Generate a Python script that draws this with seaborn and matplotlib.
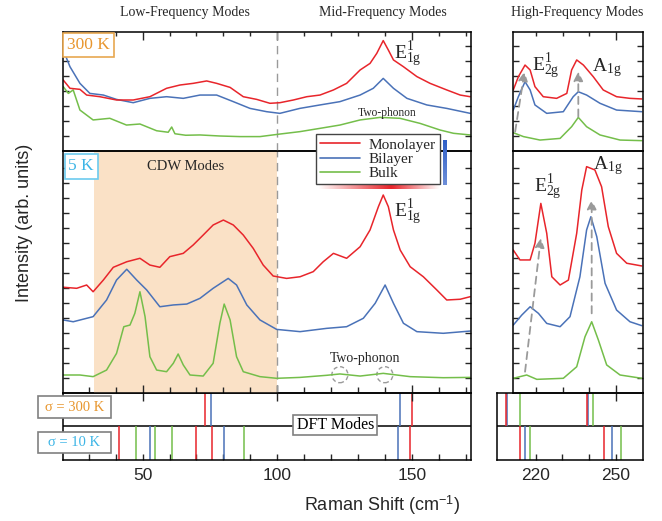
import numpy as np
import pandas as pd
import matplotlib
matplotlib.use("Agg")
import matplotlib.pyplot as plt
import seaborn as sns
from matplotlib.lines import Line2D
from matplotlib.patches import Ellipse, Rectangle

# ---------------- data ----------------
# Low/Mid frequency, 300 K
mono300_x = [20.5, 23, 26.7, 29.2, 34.1, 40.3, 46.5, 52.7, 58.9, 63.9, 68.8, 73.8, 77.5, 82.5, 87.4, 92.4, 97.3, 101,
             106, 111, 115.9, 120.9, 125.8, 130.8, 134.5, 137, 139.4, 141.3, 143.2, 146.9, 151.9, 156.8, 163, 168, 171.7]
mono300_y = [4.73, 4.18, 4.11, 3.73, 3.62, 3.4, 3.4, 3.62, 4.18, 4.4, 4.51, 4.67, 4.51, 4.24, 3.62, 3.44, 3.18, 3.22,
             3.4, 3.62, 3.73, 4.07, 4.51, 5.4, 5.84, 6.51, 7.36, 6.73, 6.07, 5.62, 4.96, 4.51, 4.07, 3.73, 3.62]
bi300_x = [20.5, 23, 26.7, 30.4, 35.4, 40.3, 46.5, 52.7, 58.9, 65.1, 71.3, 77.5, 83.7, 89.9, 96.1, 101, 108.4, 115.9,
           123.3, 130.8, 135.7, 139.4, 143.2, 148.2, 155.6, 163, 171.7]
bi300_y = [6.73, 5.62, 4.51, 3.84, 3.73, 3.44, 3.22, 3.51, 3.62, 3.51, 3.73, 3.73, 3.29, 2.84, 2.62, 2.51, 2.84, 3.07,
           3.29, 3.73, 4.18, 4.84, 4.18, 3.51, 3.07, 2.84, 2.51]
bulk300_x = [20.5, 22.4, 24.2, 26.7, 31.6, 37.8, 44, 49, 55.2, 59.5, 60.8, 62, 66, 71.3, 78.7, 86.2, 93.6, 101, 108.4,
             115.9, 123.3, 130.8, 138.2, 145.6, 153.1, 160.5, 165.5, 171.7]
bulk300_y = [4.29, 3.84, 4.07, 2.73, 2.07, 2.18, 1.73, 1.8, 1.35, 1.25, 1.6, 1.15, 1.05, 1.07, 1.0, 0.96, 0.96, 1.13,
             1.29, 1.51, 1.73, 2.07, 2.24, 2.18, 1.84, 1.4, 1.18, 1.07]

# Low/Mid frequency, 5 K
mono5_x = [20.5, 25.5, 29.2, 31.6, 35.4, 39.1, 44.1, 49, 52.7, 56.4, 60.1, 65.1, 68.8, 72.5, 76.2, 80, 83.7, 87.4,
           91.1, 94.8, 98.5, 103.5, 108.5, 113.4, 117.1, 120.9, 125.8, 130.8, 134.5, 137.6, 139.4, 141.3, 143.2,
           145.7, 149.4, 154.3, 159.3, 163, 168, 171.7]
mono5_y = [7.03, 6.96, 7.18, 6.73, 7.51, 8.36, 8.73, 8.96, 8.51, 8.36, 9.07, 9.29, 9.85, 10.51, 11.18, 11.51, 11.18,
           10.51, 9.62, 8.51, 7.78, 7.62, 7.73, 8.07, 8.73, 9.29, 8.96, 9.73, 10.85, 12.4, 13.18, 12.4, 10.85, 9.51,
           8.4, 7.73, 6.85, 6.18, 6.23, 6.4]
bi5_x = [20.5, 24.2, 31.6, 36.6, 40.3, 44.1, 47.8, 51.5, 56.4, 61.4, 66.4, 71.3, 76.2, 81.8, 84.9, 88.7, 93.6, 99.8,
         108.5, 118.4, 125.8, 132, 136.4, 140.1, 143.2, 146.9, 151.9, 161.7, 171.7]
bi5_y = [4.85, 4.73, 5.07, 6.18, 7.51, 8.23, 7.51, 6.85, 5.73, 5.85, 5.91, 6.29, 6.96, 7.62, 7.18, 5.85, 4.85, 4.22,
         4.07, 4.29, 4.4, 4.96, 5.96, 7.18, 5.96, 4.63, 4.07, 3.96, 4.11]
bulk5_x = [20.5, 26.7, 31.6, 36.6, 40.3, 43, 45.3, 47.1, 49, 50.9, 52.7, 55.2, 58.9, 61.4, 63.2, 65.1, 67.6, 72.5,
           76.2, 78.7, 80.3, 82.5, 84.9, 87.4, 93.6, 99.8, 108.5, 118.4, 123.3, 130.8, 139.4, 149.4, 161.7, 171.7]
bulk5_y = [1.18, 1.18, 1.07, 1.51, 2.62, 4.4, 4.51, 5.29, 6.73, 5.07, 2.4, 1.51, 1.4, 1.96, 2.58, 1.85, 1.18, 1.11,
           1.96, 4.63, 5.91, 4.85, 2.4, 1.4, 1.07, 0.96, 1.02, 1.16, 1.25, 1.11, 1.29, 1.07, 1.0, 1.02]

# High frequency, 300 K
hmono300_x = [211.6, 213.5, 216, 217.9, 219.7, 222.8, 227.8, 231.6, 233.4, 235.3, 237.8, 241.5, 245.2, 250.2, 255.2, 259.6]
hmono300_y = [4.07, 4.95, 5.73, 5.4, 4.29, 3.62, 3.51, 3.84, 5.4, 6.07, 5.73, 4.95, 4.07, 3.62, 3.51, 3.47]
hbi300_x = [211.6, 213.5, 216, 217.9, 219.7, 224.1, 230.3, 234, 235.9, 239, 244, 250.2, 259.6]
hbi300_y = [2.73, 3.62, 4.62, 4.07, 3.07, 2.51, 2.62, 3.62, 3.95, 3.73, 3.18, 2.73, 2.62]
hbulk300_x = [211.6, 215.4, 221.6, 229.1, 233.4, 235.9, 239, 244, 251.5, 259.6]
hbulk300_y = [1.22, 0.96, 0.73, 0.84, 1.62, 2.24, 1.62, 1.07, 0.73, 0.69]

# High frequency, 5 K
hmono5_x = [211.6, 214.1, 217.9, 219.7, 221.9, 224.1, 226, 229.1, 232.2, 235.3, 237.2, 239, 242.1, 244.6, 247.1,
            250.2, 254, 259.6]
hmono5_y = [9.51, 8.85, 8.85, 9.96, 12.62, 10.63, 7.73, 7.18, 7.51, 10.63, 13.51, 15.07, 14.85, 13.73, 11.07, 9.29,
            8.63, 8.45]
hbi5_x = [211.6, 214.8, 217.9, 221, 224.1, 229.1, 232.8, 236.5, 239, 240.6, 242.8, 245.9, 250.2, 255.2, 259.6]
hbi5_y = [4.51, 5.18, 5.73, 5.29, 4.62, 4.4, 5.07, 7.73, 10.85, 11.73, 10.4, 7.29, 5.51, 4.73, 4.47]
hbulk5_x = [211.6, 216.6, 220.4, 230.3, 235.3, 238.4, 240.9, 243.4, 246.5, 251.5, 259.6]
hbulk5_y = [0.96, 1.18, 0.89, 0.96, 1.73, 3.73, 4.73, 3.51, 1.85, 1.18, 0.96]

# DFT modes (cm^-1)
dft300_low = {"mono": [73.2, 150.0], "bi": [75.3, 145.5], "bulk": []}
dft10_low = {"mono": [41.2, 69.7, 75.6, 149.4], "bi": [52.7, 80.2, 144.9], "bulk": [47.4, 54.7, 60.9, 87.5]}
dft300_high = {"mono": [208.9, 239.0], "bi": [209.2, 239.5], "bulk": [214.0, 241.3]}
dft10_high = {"mono": [214.3, 245.6], "bi": [215.9, 248.5], "bulk": [217.9, 251.9]}

series_names = ["Monolayer", "Bilayer", "Bulk"]
low_ticklabels = [50, 100, 150]
high_ticklabels = [220, 250]

# ---------------- style ----------------
sns.set_style("ticks")
plt.rcParams["font.family"] = ["Liberation Sans", "DejaVu Sans"]
plt.rcParams["mathtext.fontset"] = "custom"
plt.rcParams["mathtext.rm"] = "Liberation Serif"
plt.rcParams["mathtext.it"] = "Liberation Serif:italic"
plt.rcParams["mathtext.bf"] = "Liberation Serif:bold"
plt.rcParams["mathtext.sf"] = "Liberation Sans"
SERIF = ["Liberation Serif", "DejaVu Serif"]

RED, BLUE, GREEN = "#E8252B", "#4A72B8", "#74BE4A"
COLORS = {"mono": RED, "bi": BLUE, "bulk": GREEN}
ORANGE, CYAN = "#E8962E", "#3DB5E6"
GRAY = "#9A9A9A"
LW = 1.1

W, H = 662, 521
fig = plt.figure(figsize=(W / 100, H / 100), dpi=100)


def rect(l, t, r, b):
    return [l / W, 1 - b / H, (r - l) / W, (b - t) / H]


def fx(px):
    return px / W


def fy(py):
    return 1 - py / H


ax_d = fig.add_axes(rect(62.7, 392.7, 470.7, 460))
ax_dr = fig.add_axes(rect(497.3, 392.7, 643, 460))
ax_m = fig.add_axes(rect(62.7, 151, 470.7, 392.7))
ax_t = fig.add_axes(rect(62.7, 32.3, 470.7, 151))
ax_mr = fig.add_axes(rect(513, 151, 643, 392.7))
ax_tr = fig.add_axes(rect(513, 32.3, 643, 151))

for ax in [ax_d, ax_dr, ax_m, ax_t, ax_mr, ax_tr]:
    ax.set_facecolor("none")
    for s in ax.spines.values():
        s.set_visible(True)
        s.set_color("black")
        s.set_linewidth(1.1)
    ax.set_xlabel("")
    ax.set_ylabel("")

XL = (20.3, 171.9)
XR = (211.5, 260.07)
XRD = (205.67, 260.07)
YT = (0, 118.7 / 15)
YM = (0, 241.7 / 15)

low_minor = [30, 40, 60, 70, 80, 90, 110, 120, 130, 140, 160, 170]
high_minor = [220, 230, 240]


def draw(ax, x, y, c):
    sns.lineplot(x=x, y=y, ax=ax, color=c, lw=LW, sort=False, estimator=None, legend=False)


# spectra
draw(ax_t, bulk300_x, bulk300_y, GREEN)
draw(ax_t, bi300_x, bi300_y, BLUE)
draw(ax_t, mono300_x, mono300_y, RED)
ax_m.axvspan(32, 100, color="#FAE1C6", lw=0, zorder=0)
draw(ax_m, bulk5_x, bulk5_y, GREEN)
draw(ax_m, bi5_x, bi5_y, BLUE)
draw(ax_m, mono5_x, mono5_y, RED)
draw(ax_tr, hbulk300_x, hbulk300_y, GREEN)
draw(ax_tr, hbi300_x, hbi300_y, BLUE)
draw(ax_tr, hmono300_x, hmono300_y, RED)
draw(ax_mr, hbulk5_x, hbulk5_y, GREEN)
draw(ax_mr, hbi5_x, hbi5_y, BLUE)
draw(ax_mr, hmono5_x, hmono5_y, RED)

for ax in [ax_t, ax_m]:
    ax.axvline(100, color=GRAY, ls=(0, (6, 4)), lw=1.0, zorder=1)

# limits and ticks
for ax, yl in [(ax_t, YT), (ax_m, YM)]:
    ax.set_xlim(*XL)
    ax.set_ylim(*yl)
for ax, yl in [(ax_tr, YT), (ax_mr, YM)]:
    ax.set_xlim(*XR)
    ax.set_ylim(*yl)

for ax, n in [(ax_t, 7), (ax_m, 15), (ax_tr, 7), (ax_mr, 15)]:
    ax.set_yticks(range(1, n + 1))
    ax.tick_params(axis="y", which="both", left=True, right=True, direction="in", length=4.5, width=1.0,
                   labelleft=False, labelright=False)

for ax, maj, mnr in [(ax_t, low_ticklabels, low_minor), (ax_tr, [250], high_minor)]:
    ax.set_xticks(maj)
    ax.set_xticks(mnr, minor=True)
    ax.tick_params(axis="x", which="both", top=True, bottom=False, labeltop=False, labelbottom=False,
                   direction="in", width=1.0)
    ax.tick_params(axis="x", which="major", length=6)
    ax.tick_params(axis="x", which="minor", length=3)

for ax, maj, mnr in [(ax_m, low_ticklabels, low_minor), (ax_mr, [250], high_minor)]:
    ax.set_xticks(maj)
    ax.set_xticks(mnr, minor=True)
    ax.tick_params(axis="x", which="both", top=False, bottom=True, labeltop=False, labelbottom=False, width=1.0)
    ax.tick_params(axis="x", which="major", length=12, direction="inout")
    ax.tick_params(axis="x", which="minor", length=4.3, direction="in")

# DFT panels
for ax, xl, d300, d10, maj, mnr in [(ax_d, XL, dft300_low, dft10_low, low_ticklabels, low_minor),
                                     (ax_dr, XRD, dft300_high, dft10_high, high_ticklabels, [230, 240])]:
    ax.set_xlim(*xl)
    ax.set_ylim(0, 2)
    ax.axhline(1, color="black", lw=1.1)
    for key in ["bulk", "bi", "mono"]:
        if d300[key]:
            ax.vlines(d300[key], 1, 2, color=COLORS[key], lw=1.1)
        if d10[key]:
            ax.vlines(d10[key], 0, 1, color=COLORS[key], lw=1.1)
    ax.set_yticks([])
    ax.set_xticks(maj)
    ax.set_xticks(mnr, minor=True)
    ax.set_xticklabels([str(v) for v in maj])
    ax.tick_params(axis="x", which="both", bottom=True, top=False, direction="in", length=4.3, width=1.0,
                   labelsize=12.5, pad=6)

# ---------------- annotations ----------------
def serif_text(ax, x, y, s, size, **kw):
    ax.text(x, y, s, fontsize=size, family=SERIF, **kw)


E1g = r"$\mathrm{E}_{\mathrm{1g}}^{\mathrm{1}}$"
E2g = r"$\mathrm{E}_{\mathrm{2g}}^{\mathrm{1}}$"
A1g = r"$\mathrm{A}_{\mathrm{1g}}$"
serif_text(ax_t, 143.5, 6.47, E1g, 14, ha="left", va="center")
serif_text(ax_m, 143.5, 12.03, E1g, 14, ha="left", va="center")
serif_text(ax_tr, 218.7, 5.67, E2g, 14, ha="left", va="center")
serif_text(ax_tr, 240.9, 5.55, A1g, 14, ha="left", va="center")
serif_text(ax_mr, 219.4, 13.73, E2g, 14, ha="left", va="center")
serif_text(ax_mr, 241.5, 15.16, A1g, 14, ha="left", va="center")

serif_text(ax_t, 140.7, 2.53, "Two-phonon", 8.3, ha="center", va="center")
serif_text(ax_m, 132.6, 2.29, "Two-phonon", 10, ha="center", va="center")
serif_text(ax_m, 65.9, 15.1, "CDW Modes", 10.5, ha="center", va="center")

for cx in [123.3, 140.0]:
    ax_m.add_patch(Ellipse((cx, 1.2), width=16 / 2.69, height=16 / 15, fill=False, ec=GRAY, ls=(0, (3, 2)),
                           lw=1.0))


def arrow(ax, start, end):
    ax.annotate("", xy=end, xytext=start,
                arrowprops=dict(arrowstyle="-|>,head_length=0.55,head_width=0.28", ls=(0, (4, 3)),
                                color=GRAY, lw=1.3, shrinkA=0, shrinkB=0))


arrow(ax_tr, (212.3, 1.29), (215.8, 5.29))
arrow(ax_tr, (235.9, 2.29), (235.9, 5.29))
arrow(ax_mr, (216.0, 1.4), (221.9, 10.3))
arrow(ax_mr, (240.9, 5.29), (240.9, 12.85))

# titles
for cxp, s in [(184.5, "Low-Frequency Modes"), (383, "Mid-Frequency Modes"), (577.5, "High-Frequency Modes")]:
    fig.text(fx(cxp), fy(12.3), s, fontsize=10, family=SERIF, ha="center", va="center")


def boxed(l, t, r, b, s, color, ec, size):
    fig.add_artist(Rectangle((fx(l), fy(b)), (r - l) / W, (b - t) / H, transform=fig.transFigure,
                             fc="white", ec=ec, lw=1.2, zorder=4))
    fig.text(fx((l + r) / 2), fy((t + b) / 2), s, color=color, fontsize=size, family=SERIF,
             ha="center", va="center", zorder=5)


boxed(63.3, 33.3, 114.3, 57.3, "300 K", ORANGE, "#E8A850", 12.5)
boxed(64.5, 153.5, 97.5, 179, "5 K", CYAN, "#6CCBEF", 12.5)
boxed(37.6, 396, 110.7, 418.3, "σ = 300 K", ORANGE, "#808080", 10.5)
boxed(37.6, 431.7, 110.7, 453.3, "σ = 10 K", CYAN, "#808080", 10.5)
boxed(293.3, 415, 377.3, 435, "DFT Modes", "black", "#808080", 11.5)

# axis labels
fig.text(fx(25), fy(222.5), "Intensity (arb. units)", rotation=90, fontsize=13, ha="center", va="center")
fig.text(fx(381.7), fy(505), r"Raman Shift (cm$^{\mathsf{-1}}$)", fontsize=13, ha="center", va="center")

# legend shadow decoration
gax = fig.add_axes(rect(442.7, 140, 446.5, 185))
gax.imshow(np.linspace(0, 1, 50)[:, None], cmap=matplotlib.colors.LinearSegmentedColormap.from_list(
    "b", ["#2F5FC8", "#6E8FD8"]), aspect="auto")
gax.axis("off")
rax = fig.add_axes(rect(318, 185, 440, 189.5))
grad = np.concatenate([np.linspace(0, 1, 60), np.linspace(1, 0, 40)])[None, :]
rax.imshow(grad, cmap=matplotlib.colors.LinearSegmentedColormap.from_list("r", ["#FFFFFF", "#E8252B"]),
           aspect="auto")
rax.axis("off")

handles = [Line2D([], [], color=c, lw=1.2) for c in [RED, BLUE, GREEN]]
fig.legend(handles, series_names, loc="upper left", bbox_to_anchor=(fx(316), fy(134)),
           bbox_transform=fig.transFigure, frameon=True, fancybox=False, framealpha=1, edgecolor="#444444",
           prop=dict(family=SERIF, size=11), handlelength=2.6, handletextpad=0.6, borderpad=0.25,
           labelspacing=0.05, borderaxespad=0)

fig.savefig("out.png", dpi=100)
